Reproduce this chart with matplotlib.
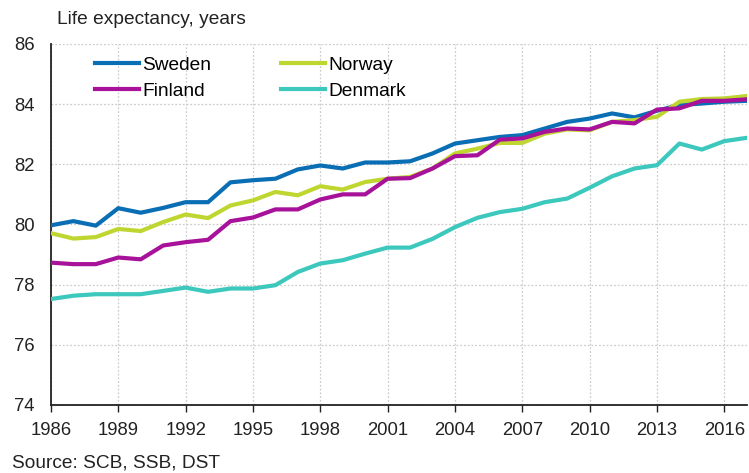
import matplotlib
matplotlib.use("Agg")
import matplotlib.pyplot as plt
import numpy as np

plt.rcParams['font.family'] = ['Liberation Sans', 'DejaVu Sans']

years = list(range(1986, 2018))
sweden = [79.97, 80.11, 79.96, 80.54, 80.39, 80.55, 80.74, 80.74, 81.40, 81.47, 81.52, 81.83,
          81.96, 81.86, 82.06, 82.06, 82.10, 82.36, 82.69, 82.80, 82.91, 82.97, 83.19, 83.41,
          83.52, 83.69, 83.56, 83.78, 83.97, 84.02, 84.08, 84.11]
norway = [79.71, 79.53, 79.58, 79.85, 79.78, 80.08, 80.33, 80.21, 80.63, 80.80, 81.08, 80.97,
          81.27, 81.16, 81.41, 81.52, 81.58, 81.86, 82.36, 82.52, 82.71, 82.71, 83.02, 83.16,
          83.13, 83.41, 83.47, 83.58, 84.08, 84.17, 84.19, 84.27]
finland = [78.73, 78.68, 78.68, 78.90, 78.84, 79.30, 79.41, 79.49, 80.11, 80.23, 80.50, 80.50,
           80.83, 81.00, 81.00, 81.52, 81.54, 81.86, 82.27, 82.30, 82.82, 82.86, 83.08, 83.19,
           83.16, 83.41, 83.36, 83.82, 83.86, 84.11, 84.11, 84.16]
denmark = [77.52, 77.63, 77.68, 77.68, 77.68, 77.79, 77.90, 77.76, 77.87, 77.87, 77.98, 78.42,
           78.70, 78.81, 79.03, 79.23, 79.23, 79.52, 79.91, 80.22, 80.41, 80.52, 80.74, 80.86,
           81.22, 81.60, 81.86, 81.97, 82.69, 82.49, 82.77, 82.88]

xticks = list(range(1986, 2017, 3))
yticks = [74, 76, 78, 80, 82, 84, 86]

fig = plt.figure(figsize=(7.49, 4.73), dpi=100)
ax = fig.add_axes([0.068, 0.144, 0.929, 0.763])

lw = 3.0
ax.plot(years, sweden, color='#0a6eb4', lw=lw, label='Sweden', zorder=3)
ax.plot(years, finland, color='#a8119a', lw=lw, label='Finland', zorder=5)
ax.plot(years, norway, color='#c0d630', lw=lw, label='Norway', zorder=4)
ax.plot(years, denmark, color='#3cc8bc', lw=lw, label='Denmark', zorder=3)

ax.set_xlim(1986, 2017)
ax.set_ylim(74, 86)
ax.set_xticks(xticks)
ax.set_yticks(yticks)
ax.grid(True, color='#cccccc', linestyle=(0, (1.5, 1.5)), linewidth=0.9)
ax.set_axisbelow(True)
for s in ['top', 'right']:
    ax.spines[s].set_visible(False)
ax.spines['left'].set_color('#222222')
ax.spines['bottom'].set_color('#222222')
ax.spines['left'].set_linewidth(1.3)
ax.spines['bottom'].set_linewidth(1.3)
ax.tick_params(axis='x', length=5, width=1, color='#222222', labelsize=13.3, labelcolor='#222222', pad=7)
ax.tick_params(axis='y', length=0, labelsize=13.3, labelcolor='#222222', pad=11.5)

leg = ax.legend(ncol=2, frameon=False,
                loc='upper left', bbox_to_anchor=(0.039, 1.013), fontsize=13.8,
                handlelength=2.3, handletextpad=0.15, columnspacing=3.65,
                labelspacing=0.45)

fig.text(57/749, 1 - 20/473, 'Life expectancy, years', fontsize=13.8, color='#222222', va='center', ha='left')
fig.text(12/749, 1 - 463/473, 'Source: SCB, SSB, DST', fontsize=13.8, color='#222222', va='center', ha='left')

fig.savefig('out.png', dpi=100)
